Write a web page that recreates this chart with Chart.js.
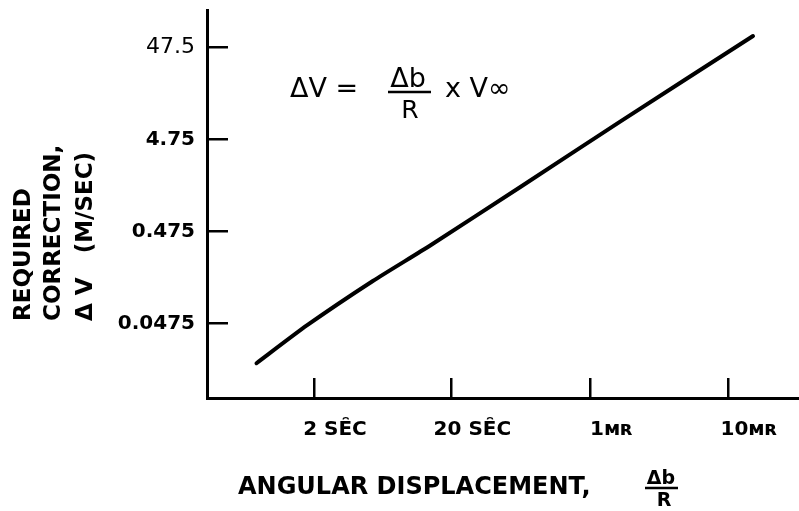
<!DOCTYPE html>
<html lang="en">
<head>
<meta charset="utf-8">
<title>Required correction vs angular displacement</title>
<script src="https://cdn.jsdelivr.net/npm/chart.js@4.4.1/dist/chart.umd.min.js"></script>
<style>
  html, body { margin: 0; padding: 0; background: #fff; }
  #wrap { width: 799px; height: 511px; position: relative; }
</style>
</head>
<body>
<div id="wrap"><canvas id="myChartCorrection"></canvas></div>
<script>
//? Données de la courbe : déplacement angulaire (mrad) et correction (m/s).

const deplacementMr = [0.0037, 0.0086, 0.026, 0.068, 0.31, 1.64, 15.2];
const correctionMs = [0.0175, 0.045, 0.137, 0.333, 1.45, 7.4, 63];

//? Graduations des axes (1 mrad = 206.265 secondes d'arc).

const ticksX = [2 / 206.265, 20 / 206.265, 1, 10];
const labelsX = ["2 SE\u0311C", "20 SE\u0311C", "1\u1D0D\u0280", "10\u1D0D\u0280"];
const ticksY = [0.0475, 0.475, 4.75, 47.5];
const labelsY = ["0.0475", "0.475", "4.75", "47.5"];

//? Bornes des axes log.

const xMin = 0.001614;
const xMax = 32.86;
const yMin = 0.00733;
const yMax = 120.8;

const NOIR = "#000";

//? -------------------------------------------------

//? Textes : titres des axes et formule.

const textesPlugin = {
  id: "textes",
  afterDraw(chart) {
    const ctx = chart.ctx;
    ctx.save();
    ctx.fillStyle = NOIR;
    ctx.strokeStyle = NOIR;

    // titre vertical, trois lignes lues de bas en haut
    ctx.font = "bold 23px 'DejaVu Sans'";
    ctx.textAlign = "left";
    ctx.textBaseline = "middle";
    const lignesY = [
      { x: 24, texte: "REQUIRED" },
      { x: 54, texte: "CORRECTION," },
      { x: 86, texte: "\u0394 V   (M/SEC)" },
    ];
    lignesY.forEach((l) => {
      ctx.save();
      ctx.translate(l.x, 321);
      ctx.rotate(-Math.PI / 2);
      ctx.fillText(l.texte, 0, 0);
      ctx.restore();
    });

    // titre horizontal
    ctx.textBaseline = "alphabetic";
    ctx.font = "bold 24px 'DejaVu Sans'";
    ctx.fillText("ANGULAR DISPLACEMENT,", 238, 494);

    // fraction Δb / R du titre
    ctx.textAlign = "center";
    ctx.font = "bold 19px 'DejaVu Sans'";
    ctx.fillText("\u0394b", 661, 484);
    ctx.fillText("R", 664, 506);
    ctx.lineWidth = 2.5;
    ctx.beginPath();
    ctx.moveTo(645, 488);
    ctx.lineTo(678, 488);
    ctx.stroke();

    // formule ΔV = Δb/R x V∞
    ctx.font = "27px 'DejaVu Sans'";
    ctx.textAlign = "left";
    ctx.fillText("\u0394V =", 290, 97);
    ctx.textAlign = "center";
    ctx.fillText("\u0394b", 408, 87);
    ctx.font = "25px 'DejaVu Sans'";
    ctx.fillText("R", 410, 118);
    ctx.beginPath();
    ctx.moveTo(388, 92);
    ctx.lineTo(431, 92);
    ctx.stroke();
    ctx.font = "27px 'DejaVu Sans'";
    ctx.textAlign = "left";
    ctx.fillText("x V\u221E", 445, 97);

    ctx.restore();
  },
};

//? -------------------------------------------------

//? Construction du graphique.

const constructionDuGraphique = () => {
  try {
    const ctxCorrection = document
      .getElementById("myChartCorrection")
      .getContext("2d");

    const data = {
      datasets: [
        {
          label: "Correction",
          data: deplacementMr.map((x, i) => ({ x, y: correctionMs[i] })),
          showLine: true,
          borderColor: NOIR,
          borderWidth: 4,
          borderCapStyle: "round",
          tension: 0.2,
          pointRadius: 0,
          fill: false,
        },
      ],
    };

    const options = {
      responsive: true,
      maintainAspectRatio: false,
      animation: false,
      layout: { padding: { top: 10, left: 0, right: 0, bottom: 0 } },
      plugins: {
        legend: { display: false },
        tooltip: { enabled: false },
      },
      scales: {
        x: {
          type: "logarithmic",
          min: xMin,
          max: xMax,
          afterBuildTicks: (scale) => {
            scale.ticks = ticksX.map((v) => ({ value: v }));
          },
          afterFit: (scale) => {
            scale.height = 113;
            scale.paddingLeft = 0;
            scale.paddingRight = 0;
          },
          ticks: {
            autoSkip: false,
            maxRotation: 0,
            color: NOIR,
            padding: 40,
            labelOffset: 21,
            font: { family: "'DejaVu Sans'", size: 20, weight: "bold" },
            callback: (value, index) => labelsX[index],
          },
          grid: {
            drawOnChartArea: false,
            drawTicks: true,
            tickLength: -20,
            color: NOIR,
            lineWidth: 2.5,
          },
          border: { display: true, color: NOIR, width: 3 },
        },
        y: {
          type: "logarithmic",
          min: yMin,
          max: yMax,
          afterBuildTicks: (scale) => {
            scale.ticks = ticksY.map((v) => ({ value: v }));
          },
          afterFit: (scale) => {
            scale.width = 207;
            scale.paddingTop = 0;
            scale.paddingBottom = 0;
          },
          ticks: {
            autoSkip: false,
            color: NOIR,
            padding: 33,
            font: (c) => ({
              family: "'DejaVu Sans'",
              size: c.tick && c.tick.value === 47.5 ? 22 : 20,
              weight: c.tick && c.tick.value === 47.5 ? "normal" : "bold",
            }),
            callback: (value, index) => labelsY[index],
          },
          grid: {
            drawOnChartArea: false,
            drawTicks: true,
            tickLength: -21,
            color: NOIR,
            lineWidth: 2.5,
          },
          border: { display: true, color: NOIR, width: 3 },
        },
      },
    };

    new Chart(ctxCorrection, {
      type: "scatter",
      data,
      options,
      plugins: [textesPlugin],
    });
  } catch (error) {
    console.log("🔴 ERREUR | Construction graphique :", error);
  }
};

constructionDuGraphique();
</script>
</body>
</html>
